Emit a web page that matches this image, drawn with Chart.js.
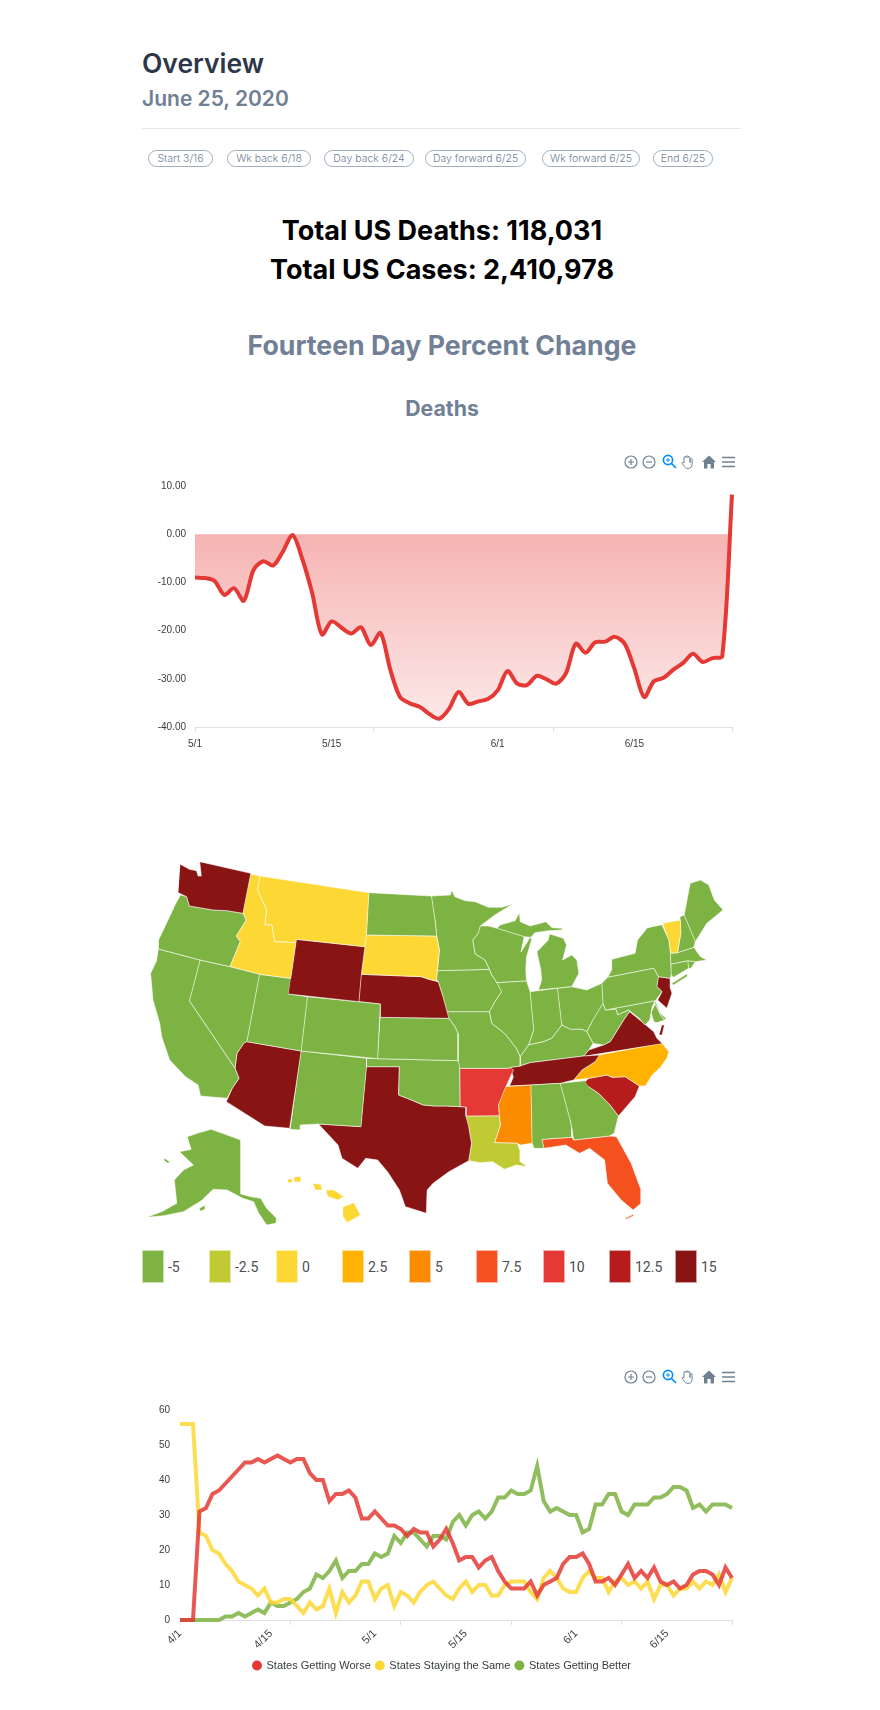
<!DOCTYPE html>
<html>
<head>
<meta charset="utf-8">
<title>Overview</title>
<script src="https://cdn.jsdelivr.net/npm/chart.js@4"></script>
<style>
  html, body { margin: 0; padding: 0; background: #fff; }
  body { position: relative; width: 880px; height: 1710px; overflow: hidden; font-family: Inter, sans-serif; }
  .abs { position: absolute; white-space: nowrap; }
  .center { left: 130px; width: 624px; text-align: center; }
  canvas { position: absolute; }
  .btn { position: absolute; top: 150px; height: 15px; line-height: 15px; border: 1px solid #a0aec0; border-radius: 9px; color: #718096; font-size: 10.5px; font-weight: 300; text-align: center; font-family: Inter, sans-serif; box-sizing: content-box; }
  .swatch { position: absolute; top: 1250px; width: 22px; height: 33px; box-sizing: border-box; border: 1px solid rgba(255,255,255,.6); }
  .swatch-label { position: absolute; top: 1259px; font: 14px Roboto, sans-serif; color: #4a4f52; }
  .toolbar svg { position: absolute; top: 0; left: 0; overflow: visible; }
</style>
</head>
<body>
<div class="abs" style="left:142px;top:47px;font-size:26.5px;font-weight:600;color:#2d3748;line-height:32px;">Overview</div>
<div class="abs" style="left:142px;top:86px;font-size:21px;font-weight:600;color:#718096;line-height:26px;">June 25, 2020</div>
<div class="abs" style="left:142px;top:128px;width:599px;height:1px;background:#e2e8f0;"></div>
<div id="buttons"></div>
<div class="abs center" style="top:214px;font-size:27px;font-weight:700;color:#000;line-height:34px;">Total US Deaths: 118,031</div>
<div class="abs center" style="top:253px;font-size:27px;font-weight:700;color:#000;line-height:34px;">Total US Cases: 2,410,978</div>
<div class="abs center" style="top:327px;font-size:26.7px;font-weight:700;color:#718096;line-height:36px;">Fourteen Day Percent Change</div>
<div class="abs center" style="top:395px;font-size:21.3px;font-weight:700;color:#718096;line-height:26px;">Deaths</div>

<canvas id="deathsChart" width="630" height="300" style="left:130px;top:470px;"></canvas>
<canvas id="mapChart" width="620" height="398" style="left:130px;top:850px;"></canvas>
<div id="mapLegend"></div>
<canvas id="statesChart" width="650" height="286" style="left:130px;top:1395px;"></canvas>
<div id="toolbars"></div>

<script>
// header buttons
const buttonLabels = ["Start 3/16", "Wk back 6/18", "Day back 6/24", "Day forward 6/25", "Wk forward 6/25", "End 6/25"];
const buttonLefts = [148, 227, 324, 425, 542, 653];
const buttonWidths = [63, 82, 88, 99, 96, 58];

// deaths chart, 5/1 to 6/25
const deathValues = [
  -9.0, -9.1, -9.7, -12.6, -11.2, -13.8, -7.4, -5.6, -6.5, -3.6,
  -0.2, -5.2, -12.2, -20.8, -18.1, -19.4, -20.6, -19.3, -23.0, -20.5,
  -28.1, -33.8, -35.1, -35.8, -37.3, -38.3, -36.3, -32.7, -35.2, -34.7,
  -34.2, -32.4, -28.4, -31.0, -31.3, -29.4, -30.1, -31.0, -28.8, -22.7,
  -24.6, -22.4, -22.3, -21.3, -22.7, -27.9, -33.8, -30.5, -29.8, -28.1,
  -26.7, -24.8, -26.5, -25.7, -25.3, 8.2
];
const deathLabelDays = { 0: "5/1", 14: "5/15", 31: "6/1", 45: "6/15" };
const deathMarkDays = [0, 18.33, 36.67, 55];

// states chart, 4/1 to 6/25
const statesWorse = [
  0, 0, 0, 31, 32, 36, 37, 39, 41, 43,
  45, 45, 46, 45, 46, 47, 46, 45, 46, 46,
  42, 40, 40, 34, 36, 36, 37, 35, 29, 29,
  31, 29, 27, 27, 26, 24, 26, 25, 25, 21,
  23, 26, 22, 17, 18, 18, 15, 17, 18, 14,
  11, 9, 9, 9, 11, 7, 10, 11, 12, 16,
  18, 18, 19, 16, 11, 11, 12, 10, 13, 16,
  12, 14, 12, 15, 11, 10, 11, 9, 10, 13,
  14, 14, 13, 10, 15, 12
];
const statesSame = [
  56, 56, 56, 25, 24, 20, 19, 16, 14, 11,
  10, 9, 7, 9, 5, 5, 6, 6, 4, 2,
  5, 3, 4, 9, 2, 8, 5, 7, 11, 11,
  6, 9, 10, 4, 8, 7, 5, 8, 10, 11,
  9, 7, 6, 9, 11, 8, 10, 10, 7, 7,
  10, 11, 11, 11, 8, 6, 12, 14, 12, 9,
  8, 8, 12, 14, 12, 12, 8, 11, 12, 10,
  11, 9, 11, 6, 10, 10, 7, 9, 9, 11,
  9, 11, 10, 13, 8, 12
];
const statesBetter = [
  0, 0, 0, 0, 0, 0, 0, 1, 1, 2,
  1, 2, 3, 2, 5, 4, 4, 5, 6, 8,
  9, 13, 12, 14, 17, 12, 14, 14, 16, 16,
  19, 18, 19, 24, 22, 25, 25, 23, 21, 24,
  24, 23, 28, 30, 27, 30, 31, 29, 31, 35,
  35, 37, 36, 36, 37, 44, 34, 31, 32, 31,
  30, 30, 25, 26, 33, 33, 36, 36, 31, 30,
  33, 33, 33, 35, 35, 36, 38, 38, 37, 32,
  33, 31, 33, 33, 33, 32
];
const statesLabelDays = { 0: "4/1", 14: "4/15", 30: "5/1", 44: "5/15", 61: "6/1", 75: "6/15" };
const statesMarkDays = [0, 17, 34, 51, 68, 85];
const seriesNames = ["States Getting Worse", "States Staying the Same", "States Getting Better"];

// map legend buckets
const mapBuckets = [-5, -2.5, 0, 2.5, 5, 7.5, 10, 12.5, 15];
const mapColors = ["#7cb342", "#c0ca33", "#fdd835", "#ffb300", "#fb8c00", "#f4511e", "#e53935", "#b71c1c", "#891414"];
const legendLefts = [142, 209, 276, 342, 409, 476, 543, 609, 675];

// change per state
const stateChange = {
  WA: 15, OR: -5, CA: -5, NV: -5, ID: 0, MT: 0, WY: 15, UT: -5, CO: -5, AZ: 15, NM: -5,
  ND: -5, SD: 0, NE: 15, KS: -5, OK: -5, TX: 15, MN: -5, IA: -5, MO: -5, AR: 10, LA: -2.5,
  MS: 5, AL: -5, TN: 15, KY: -5, IL: -5, IN: -5, OH: -5, WI: -5, MI: -5, MI2: -5, PA: -5,
  WV: -5, MD: -5, MD2: -5, DC: -5, DE: -5, VA: 15, VA2: 15, NC: 2.5, SC: 12.5, GA: -5, FL: 7.5, FL2: 7.5,
  NY: -5, LI: -5, VT: 0, NH: -5, ME: -5, MA: -5, CT: -5, RI: -5, NJ: 15,
  AK: -5, AK2: -5, AK3: -5, HI: 0, HI2: 0, HI3: 0, HI4: 0, HI5: 0
};

// state outlines in map units
const WA = [[127,43],[150,58],[168,62],[172,78],[180,78],[176,35],[305,70],[285,190],[245,182],[210,180],[175,173],[150,168],[143,140],[122,128]];
const OR = [[128,135],[143,140],[150,168],[175,173],[210,180],[245,182],[285,190],[293,210],[268,258],[278,275],[252,350],[177,330],[72,297],[72,270],[90,225],[110,175]];
const CA = [[72,297],[177,330],[150,453],[265,655],[275,685],[258,715],[245,745],[178,738],[172,705],[140,680],[100,630],[80,560],[75,520],[58,450],[52,370],[68,330]];
const NV = [[177,330],[252,350],[327,373],[295,575],[287,580],[270,610],[265,655],[150,453]];
const ID = [[305,72],[328,78],[322,120],[345,180],[340,225],[358,225],[365,275],[419,278],[406,385],[327,373],[252,350],[278,275],[268,258],[293,210],[285,190]];
const MT = [[328,78],[603,128],[597,255],[593,290],[420,268],[419,278],[365,275],[358,225],[340,225],[345,180],[322,120]];
const WY = [[420,268],[593,290],[584,373],[578,455],[400,432]];
const UT = [[327,373],[406,385],[400,432],[448,440],[432,603],[295,575]];
const CO = [[448,440],[632,462],[625,626],[432,603]];
const AZ = [[295,575],[432,603],[403,835],[340,828],[243,755],[258,715],[275,685],[265,655],[270,610],[287,580]];
const NM = [[432,603],[597,625],[597,650],[583,830],[477,822],[430,825],[430,840],[405,838]];
const ND = [[603,128],[761,138],[770,210],[774,258],[597,255]];
const SD = [[597,255],[774,258],[781,300],[776,362],[774,390],[778,395],[755,388],[735,380],[584,373],[593,290]];
const NE = [[584,373],[735,380],[755,388],[778,395],[790,440],[805,505],[632,502],[632,462],[578,455]];
const KS = [[632,502],[805,505],[820,530],[828,550],[828,632],[625,626]];
const OK = [[597,625],[625,626],[828,632],[832,648],[833,770],[800,768],[770,768],[740,765],[700,745],[678,735],[680,650],[597,650]];
const TX = [[597,650],[680,650],[678,735],[700,745],[740,765],[770,768],[800,768],[833,770],[848,772],[848,798],[855,830],[862,880],[855,932],[805,965],[765,1000],[750,1020],[748,1090],[722,1080],[695,1070],[680,1020],[650,965],[625,930],[595,925],[575,955],[535,925],[525,885],[478,825],[477,822],[583,830]];
const MN = [[761,138],[809,135],[812,120],[820,140],[846,152],[871,155],[905,172],[938,172],[966,162],[921,195],[884,228],[879,250],[865,270],[871,312],[896,330],[907,358],[776,362],[781,300],[774,258],[770,210]];
const IA = [[776,362],[907,358],[913,375],[926,398],[938,425],[921,455],[907,485],[799,485],[790,440],[778,395],[774,390]];
const MO = [[799,485],[907,485],[913,520],[947,552],[975,595],[985,620],[985,648],[960,652],[955,655],[830,655],[828,550],[820,530],[805,505]];
const AR = [[830,655],[955,655],[960,652],[968,660],[945,720],[930,765],[932,797],[848,798],[848,772],[833,770],[832,648]];
const LA = [[848,798],[932,797],[935,825],[920,878],[978,880],[985,905],[985,935],[1003,950],[975,945],[945,958],[915,935],[885,938],[855,932],[862,880],[855,830]];
const MS = [[945,710],[1012,705],[1015,880],[985,885],[978,880],[920,878],[935,825],[932,797],[930,765]];
const AL = [[1012,705],[1086,700],[1111,810],[1115,835],[1115,862],[1040,868],[1045,895],[1020,895],[1015,880]];
const TN = [[960,652],[985,648],[1010,638],[1145,618],[1185,615],[1174,635],[1141,660],[1120,690],[1086,700],[1012,705],[958,708],[968,680]];
const KY = [[985,620],[1006,585],[1044,575],[1065,565],[1090,525],[1111,538],[1141,538],[1153,545],[1169,580],[1158,600],[1145,618],[1010,638],[985,648]];
const IL = [[926,398],[1001,393],[1010,425],[1019,540],[1006,585],[985,620],[975,595],[947,552],[913,520],[907,485],[921,455],[938,425]];
const IN = [[1010,425],[1079,415],[1090,525],[1065,565],[1044,575],[1006,585],[1019,540]];
const OH = [[1079,415],[1115,410],[1153,420],[1191,400],[1194,460],[1166,515],[1153,545],[1141,538],[1111,538],[1090,525]];
const WI = [[884,228],[905,228],[927,235],[995,260],[987,306],[1010,262],[1014,268],[1001,320],[999,360],[1001,393],[926,398],[913,375],[907,358],[896,330],[871,312],[865,270],[879,250]];
const MI = [[927,235],[934,225],[972,212],[983,188],[985,215],[1010,228],[1050,215],[1065,233],[1092,235],[1090,240],[1056,242],[1022,248],[1012,262],[995,260]];
const MI2 = [[1060,252],[1094,265],[1102,285],[1092,330],[1115,315],[1128,330],[1133,370],[1115,410],[1031,420],[1039,390],[1037,360],[1027,305],[1056,270]];
const PA = [[1191,400],[1206,382],[1322,355],[1334,380],[1330,410],[1343,425],[1326,452],[1200,480],[1194,460]];
const WV = [[1194,460],[1200,480],[1227,478],[1231,495],[1259,480],[1261,485],[1246,510],[1233,535],[1212,575],[1195,585],[1169,580],[1153,545],[1166,515]];
const MD = [[1200,480],[1326,452],[1318,470],[1312,510],[1300,525],[1285,505],[1262,483],[1259,480],[1231,495],[1227,478]];
const MD2 = [[1326,462],[1339,495],[1349,510],[1330,518],[1322,515],[1316,490]];
const DC = [[1296,485],[1303,488],[1305,495],[1301,502],[1296,503],[1290,500],[1288,493],[1290,487]];
const DE = [[1326,452],[1339,490],[1353,505],[1349,510],[1339,495],[1326,462]];
const VA = [[1145,618],[1158,600],[1195,585],[1212,575],[1233,535],[1246,510],[1261,485],[1292,515],[1322,545],[1330,565],[1343,580]];
const VA2 = [[1343,525],[1349,525],[1343,555],[1336,555]];
const NC = [[1183,615],[1343,580],[1360,605],[1355,625],[1339,652],[1318,675],[1301,708],[1286,708],[1250,680],[1217,682],[1204,675],[1158,685],[1120,690],[1141,660],[1174,635]];
const SC = [[1149,695],[1158,685],[1204,675],[1217,682],[1250,680],[1286,708],[1275,740],[1233,798],[1212,765],[1183,730],[1158,710]];
const GA = [[1086,700],[1149,692],[1158,710],[1183,730],[1212,765],[1233,798],[1222,850],[1210,858],[1120,870],[1115,835],[1111,810]];
const FL = [[1040,868],[1115,862],[1120,870],[1210,858],[1228,860],[1265,940],[1290,1020],[1290,1060],[1270,1080],[1240,1050],[1205,1000],[1198,930],[1160,895],[1135,910],[1100,885],[1045,895]];
const FL2 = [[1250,1105],[1270,1093],[1272,1097],[1252,1108]];
const NY = [[1343,225],[1360,270],[1364,310],[1366,375],[1364,385],[1334,380],[1322,355],[1206,382],[1216,360],[1216,328],[1275,310],[1281,270],[1305,235]];
const LI = [[1368,400],[1405,372],[1408,378],[1372,405]];
const VT = [[1345,220],[1389,210],[1391,245],[1382,308],[1364,310],[1360,270]];
const NH = [[1389,200],[1399,195],[1427,275],[1423,292],[1382,308],[1391,245]];
const ME = [[1399,195],[1414,100],[1440,90],[1461,105],[1475,150],[1497,180],[1456,220],[1427,275]];
const MA = [[1364,310],[1382,308],[1423,292],[1440,320],[1456,330],[1427,335],[1408,332],[1366,342]];
const CT = [[1366,342],[1408,332],[1410,355],[1372,382],[1366,375]];
const RI = [[1408,332],[1427,335],[1416,355],[1410,355]];
const NJ = [[1334,380],[1364,385],[1364,415],[1368,430],[1355,475],[1332,450],[1343,425],[1330,410]];
const AK = [[145,860],[170,850],[205,838],[280,870],[280,1032],[305,1040],[330,1045],[345,1075],[370,1105],[368,1120],[345,1125],[325,1090],[312,1055],[285,1045],[245,1020],[210,1018],[180,1052],[135,1085],[85,1097],[42,1102],[80,1085],[118,1060],[112,990],[135,960],[160,945],[125,905],[155,898]];
const AK2 = [[175,1075],[190,1065],[190,1078],[178,1083]];
const AK3 = [[88,925],[100,935],[96,940],[86,932]];
const HI = [[538,1070],[565,1058],[582,1095],[548,1118],[538,1100]];
const HI2 = [[495,1020],[515,1020],[540,1040],[525,1050],[500,1040]];
const HI3 = [[462,1000],[482,1003],[485,1020],[468,1020]];
const HI4 = [[415,980],[432,980],[432,996],[415,996]];
const HI5 = [[398,988],[410,986],[410,998],[400,998]];

const stateShapes = {
  WA, OR, CA, NV, ID, MT, WY, UT, CO, AZ, NM, ND, SD, NE, KS, OK, TX, MN, IA, MO, AR, LA, MS, AL, TN, KY, IL, IN, OH, WI, MI, MI2,
  PA, WV, MD, MD2, DC, DE, VA, VA2, NC, SC, GA, FL, FL2, NY, LI, VT, NH, ME, MA, CT, RI, NJ, AK, AK2, AK3, HI, HI2, HI3, HI4, HI5
};

const axisText = "#373d3f";
const axisLine = "#e0e0e0";
const axisFont = { family: "'Liberation Sans', Arial, sans-serif", size: 10 };

// page bits that are plain html
buttonLabels.forEach((label, i) => {
  const b = document.createElement("div");
  b.className = "btn";
  b.textContent = label;
  b.style.left = buttonLefts[i] + "px";
  b.style.width = buttonWidths[i] + "px";
  document.getElementById("buttons").appendChild(b);
});

mapBuckets.forEach((bucket, i) => {
  const box = document.createElement("div");
  box.className = "swatch";
  box.style.left = legendLefts[i] + "px";
  box.style.background = mapColors[i];
  const text = document.createElement("div");
  text.className = "swatch-label";
  text.style.left = legendLefts[i] + 26 + "px";
  text.textContent = bucket;
  document.getElementById("mapLegend").append(box, text);
});

const iconSvg = `<svg width="110" height="16" viewBox="0 0 110 16" fill="none" stroke="#6e8192" stroke-width="1.2">
  <circle cx="7" cy="8" r="6"/><path d="M4 8h6M7 5v6"/>
  <circle cx="25" cy="8" r="6"/><path d="M22 8h6"/>
  <g stroke="#008ffb" stroke-width="1.7"><circle cx="44" cy="6" r="4.6"/><path d="M47.5 9.5l4.5 4.5"/><path d="M42 6h4M44 4v4" stroke-width="1"/></g>
  <path d="M60 9V3.6a1 1 0 0 1 2 0V2.8a1 1 0 0 1 2 0v.8a1 1 0 0 1 2 0v5l.1-3a1 1 0 0 1 2 0V10c0 3-1.6 4.4-4 4.4s-3.2-1-4.2-2.6l-1.6-2.4c-.6-1 .6-1.8 1.4-1z" fill="#fff" stroke-width="1"/>
  <path d="M85 1.5l7 6.5h-2v6.5h-3.4V10h-3.2v4.5H80V8h-2z" fill="#6e8192" stroke="none"/>
  <path d="M98 3.5h13M98 8h13M98 12.5h13" stroke-width="1.6"/>
</svg>`;
[454, 1369].forEach(top => {
  const bar = document.createElement("div");
  bar.className = "abs toolbar";
  bar.style.left = "624px";
  bar.style.top = top + "px";
  bar.innerHTML = iconSvg;
  document.getElementById("toolbars").appendChild(bar);
});

function toPoints(values) {
  return values.map((v, i) => ({ x: i, y: v }));
}

function dayAxis(labelDays, markDays, lastDay, rotation, fitHeight, fontSize, tickPadding) {
  const days = [...new Set([...Object.keys(labelDays).map(Number), ...markDays])].sort((a, b) => a - b);
  return {
    type: "linear",
    min: 0,
    max: lastDay,
    afterBuildTicks: axis => { axis.ticks = days.map(value => ({ value })); },
    afterFit: axis => { axis.height = fitHeight; },
    border: { color: axisLine },
    grid: {
      drawOnChartArea: false,
      tickLength: 5,
      tickColor: ctx => ctx.tick && markDays.includes(ctx.tick.value) ? axisLine : "rgba(0,0,0,0)"
    },
    ticks: {
      autoSkip: false,
      maxRotation: rotation,
      minRotation: rotation,
      color: axisText,
      font: { ...axisFont, size: fontSize },
      padding: tickPadding,
      callback: value => labelDays[value] || ""
    }
  };
}

function valueAxis(min, max, step, width, format, padding) {
  return {
    min, max,
    afterFit: axis => { axis.width = width; },
    border: { display: false },
    grid: { display: false },
    ticks: { stepSize: step, color: axisText, font: axisFont, padding, callback: format }
  };
}

new Chart(document.getElementById("deathsChart"), {
  type: "line",
  data: {
    datasets: [{
      data: toPoints(deathValues),
      borderColor: "#e53935",
      borderWidth: 4,
      pointRadius: 0,
      tension: 0.3,
      clip: false,
      fill: "origin",
      backgroundColor: ctx => {
        const { chart } = ctx;
        if (!chart.chartArea) return "rgba(229,57,53,.3)";
        const y = chart.scales.y;
        const g = chart.ctx.createLinearGradient(0, y.getPixelForValue(0), 0, y.getPixelForValue(-40));
        g.addColorStop(0, "rgba(229,57,53,.38)");
        g.addColorStop(1, "rgba(229,57,53,.1)");
        return g;
      }
    }]
  },
  options: {
    responsive: false,
    animation: false,
    layout: { padding: { top: 16, right: 28, bottom: 3 } },
    plugins: { legend: { display: false }, tooltip: { enabled: false } },
    scales: {
      x: dayAxis(deathLabelDays, deathMarkDays, 55, 0, 40, 10, 6),
      y: valueAxis(-40, 10, 10, 65, v => v.toFixed(2), 1)
    }
  }
});

new Chart(document.getElementById("mapChart"), {
  type: "scatter",
  data: {
    datasets: Object.keys(stateShapes).map(code => ({
      label: code,
      data: stateShapes[code].map(p => ({ x: p[0], y: p[1] })),
      showLine: true,
      fill: "shape",
      tension: 0,
      pointRadius: 0,
      borderWidth: 0.7,
      borderColor: "rgba(255,255,255,.8)",
      backgroundColor: mapColors[mapBuckets.indexOf(stateChange[code])]
    }))
  },
  options: {
    responsive: false,
    animation: false,
    layout: { padding: 0 },
    plugins: { legend: { display: false }, tooltip: { enabled: false } },
    scales: {
      x: { display: false, min: 0, max: 1565 },
      y: { display: false, min: 0, max: 1194, reverse: true }
    }
  }
});

const seriesStyle = [
  { values: statesWorse, solid: "#e53935", line: "rgba(229,57,53,.85)" },
  { values: statesSame, solid: "#fdd835", line: "rgba(253,216,53,.85)" },
  { values: statesBetter, solid: "#7cb342", line: "rgba(124,179,66,.85)" }
];

new Chart(document.getElementById("statesChart"), {
  type: "line",
  data: {
    datasets: seriesStyle.map((s, i) => ({
      label: seriesNames[i],
      data: toPoints(s.values),
      borderColor: s.line,
      backgroundColor: s.solid,
      borderWidth: 4,
      pointRadius: 0,
      pointStyle: "circle",
      tension: 0,
      clip: false
    }))
  },
  options: {
    responsive: false,
    animation: false,
    layout: { padding: { top: 15, left: 22, right: 48 } },
    plugins: {
      tooltip: { enabled: false },
      legend: {
        position: "bottom",
        labels: {
          usePointStyle: true,
          boxWidth: 8,
          boxHeight: 7,
          padding: 5,
          color: axisText,
          font: { family: "'Liberation Sans', Arial, sans-serif", size: 11 },
          generateLabels: chart => Chart.defaults.plugins.legend.labels.generateLabels(chart).map(l => ({ ...l, lineWidth: 0 }))
        }
      }
    },
    scales: {
      x: dayAxis(statesLabelDays, statesMarkDays, 85, 45, 35, 11, 2),
      y: valueAxis(0, 60, 10, 28, v => v, 2)
    }
  }
});
</script>
</body>
</html>
